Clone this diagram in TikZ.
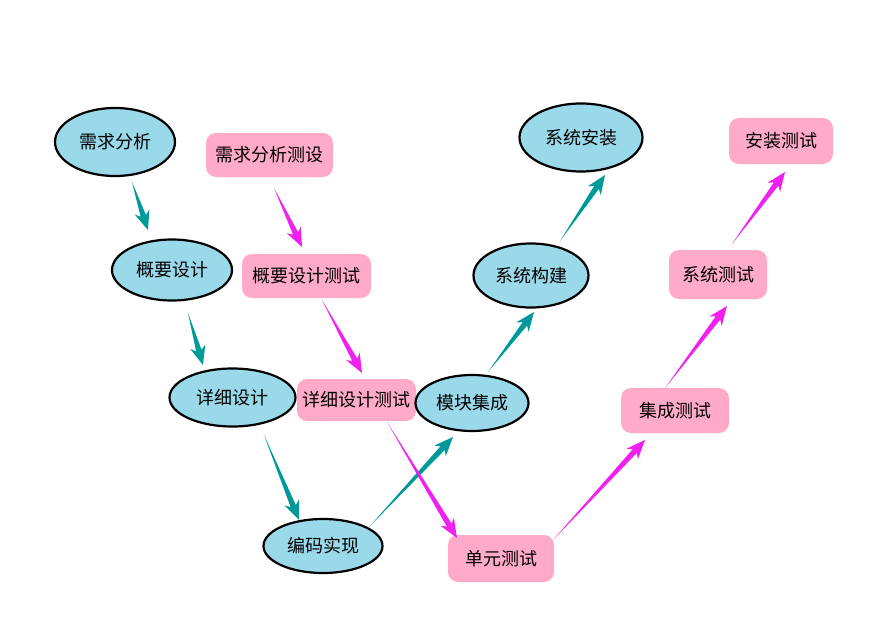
\documentclass[tikz,border=0pt]{standalone}
\usepackage{fontspec}
\newfontfamily\cjk{Noto Sans CJK SC}
\usetikzlibrary{calc,shapes.geometric}
\definecolor{ellblue}{RGB}{153,217,234}
\definecolor{boxpink}{RGB}{255,170,200}
\definecolor{tealc}{RGB}{0,153,153}
\definecolor{magc}{RGB}{240,32,240}
\newcommand\tarrow[3]{%
  \fill[#1] (#2)
    -- ($($(#3)!15pt!(#2)$)!2.8pt!90:(#3)$)
    -- ($($(#3)!19pt!(#2)$)!7.8pt!90:(#3)$)
    -- (#3)
    -- ($($(#3)!19pt!(#2)$)!7.8pt!-90:(#3)$)
    -- ($($(#3)!15pt!(#2)$)!2.8pt!-90:(#3)$)
    -- cycle;}
\begin{document}
\begin{tikzpicture}[x=1pt,y=-1pt,
  font=\cjk\fontsize{18}{20}\selectfont,
  ell/.style={ellipse, draw=black, line width=2.2pt, fill=ellblue, inner sep=0pt},
  pbox/.style={rectangle, rounded corners=10pt, fill=boxpink, inner sep=0pt}]
\useasboundingbox[fill=white] (0,0) rectangle (871,626);

% test boxes
\node[pbox, minimum width=127pt, minimum height=44pt] (t1) at (269.5,155) {需求分析测设};
\node[pbox, minimum width=129pt, minimum height=44pt] (t2) at (306.5,276) {概要设计测试};
\node[pbox, minimum width=119pt, minimum height=42pt] (t3) at (356.5,400) {详细设计测试};
\node[pbox, minimum width=106pt, minimum height=47pt] (t4) at (501,558.5) {单元测试};
\node[pbox, minimum width=108pt, minimum height=45pt] (t5) at (675,410.5) {集成测试};
\node[pbox, minimum width=98pt, minimum height=49pt] (t6) at (718,274.5) {系统测试};
\node[pbox, minimum width=104pt, minimum height=46pt] (t7) at (781,141) {安装测试};

% development ellipses
\node[ell, minimum width=120pt, minimum height=68pt] (n1) at (115,142) {需求分析};
\node[ell, minimum width=120pt, minimum height=61pt] (n2) at (172,270) {概要设计};
\node[ell, minimum width=126pt, minimum height=58pt] (n3) at (232.5,397.5) {详细设计};
\node[ell, minimum width=119pt, minimum height=54pt] (n4) at (323,546) {编码实现};
\node[ell, minimum width=113pt, minimum height=56pt] (n5) at (472,403) {模块集成};
\node[ell, minimum width=115pt, minimum height=64pt] (n6) at (531,275.5) {系统构建};
\node[ell, minimum width=123pt, minimum height=68pt] (n7) at (581,137.5) {系统安装};

% arrow end points
\coordinate (a1s) at (132,182);  \coordinate (a1e) at (148,230);
\coordinate (a2s) at (188,313);  \coordinate (a2e) at (203,365);
\coordinate (a3s) at (264,435);  \coordinate (a3e) at (299,520);
\coordinate (a4s) at (369,527);  \coordinate (a4e) at (453,437);
\coordinate (a5s) at (488,372);  \coordinate (a5e) at (534,312);
\coordinate (a6s) at (560,241);  \coordinate (a6e) at (605,175);
\coordinate (b1s) at (274,188);  \coordinate (b1e) at (302,247);
\coordinate (b2s) at (322,300);  \coordinate (b2e) at (362,373);
\coordinate (b3s) at (387,422);  \coordinate (b3e) at (457,538);
\coordinate (b4s) at (553,540);  \coordinate (b4e) at (645,440);
\coordinate (b5s) at (665,388);  \coordinate (b5e) at (727,306);
\coordinate (b6s) at (732,244);  \coordinate (b6e) at (785,172);

% development arrows
\tarrow{tealc}{a1s}{a1e}
\tarrow{tealc}{a2s}{a2e}
\tarrow{tealc}{a3s}{a3e}
\tarrow{tealc}{a4s}{a4e}
\tarrow{tealc}{a5s}{a5e}
\tarrow{tealc}{a6s}{a6e}
% test arrows
\tarrow{magc}{b1s}{b1e}
\tarrow{magc}{b2s}{b2e}
\tarrow{magc}{b3s}{b3e}
\tarrow{magc}{b4s}{b4e}
\tarrow{magc}{b5s}{b5e}
\tarrow{magc}{b6s}{b6e}
\end{tikzpicture}
\end{document}
